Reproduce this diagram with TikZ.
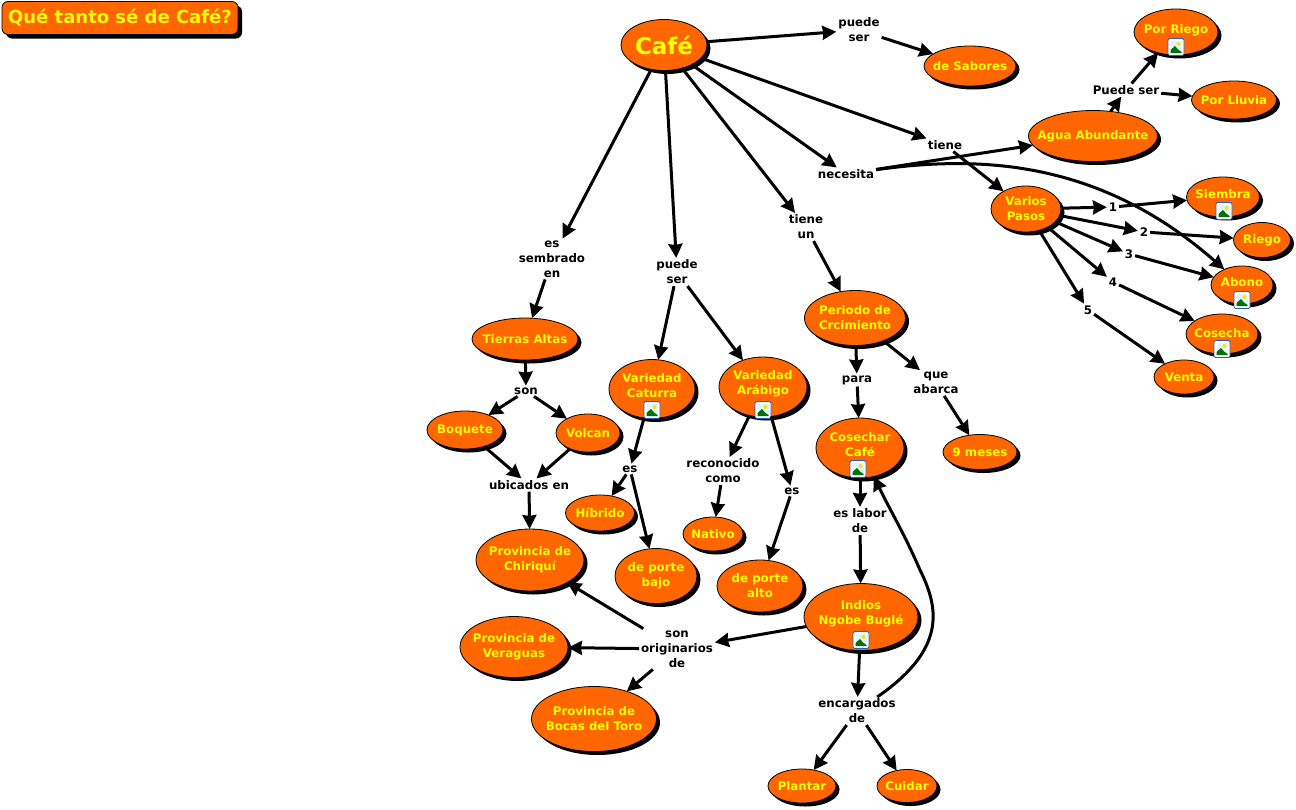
\documentclass[tikz,border=0pt]{standalone}
\usepackage{fontspec}
\setmainfont{DejaVu Sans}
\usetikzlibrary{arrows.meta,shapes.geometric,shadows}
\definecolor{cmaporange}{HTML}{FF6600}
\definecolor{cmapyellow}{HTML}{FFFF00}
\definecolor{iconblue}{HTML}{2A5FC0}

\begin{document}
\begin{tikzpicture}[
    x=1pt, y=-1pt,
    concept/.style 2 args={ellipse, draw=black, line width=0.8pt, fill=cmaporange, text=cmapyellow,
        inner sep=-25pt, outer sep=0pt, minimum width=#1pt, minimum height=#2pt, align=center,
        font=\fontsize{11.8}{15}\selectfont\bfseries,
        general shadow={fill=black, shadow xshift=3.5pt, shadow yshift=-3.5pt}},
    linker/.style={inner sep=1pt, outer sep=1pt, align=center, text=black,
        font=\fontsize{11.8}{15}\selectfont\bfseries},
    link/.style={-{Stealth[length=14pt,width=14pt,inset=1pt]}, line width=3pt},
    pics/imgicon/.style={code={
        \draw[draw=iconblue, fill=white, rounded corners=1.5pt, line width=0.9pt] (-8,-8.5) rectangle (8,8.5);
        \fill[cyan!12!white] (-5.5,-6) rectangle (5.5,6);
        \fill[green!45!black] (-5.5,6) -- (-5.5,3) -- (-1,-1) -- (2,2.5) -- (5.5,5) -- (5.5,6) -- cycle;
        \fill[yellow!85!orange] (2.5,-3) circle (2);
    }}
]
\useasboundingbox (0,0) rectangle (1296,809);

% Title
\node[rectangle, rounded corners=6pt, draw=black, line width=0.8pt, fill=cmaporange, text=cmapyellow,
    minimum width=236pt, minimum height=33pt, font=\fontsize{18}{20}\selectfont\bfseries,
    general shadow={fill=black, shadow xshift=4pt, shadow yshift=-4pt}] (title) at (120,18) {Qué tanto sé de Café?};

% Concepts
\node[concept={86}{51}, font=\fontsize{23}{26}\selectfont\bfseries] (cafe) at (664,45) {Café};
\node[concept={92}{40}] (sabores) at (970,66) {de Sabores};
\node[concept={84}{46}] (riego1) at (1176,32) {Por Riego\\[-9pt]};
\node[concept={85}{38}] (lluvia) at (1234,100) {Por Lluvia};
\node[concept={129}{51}] (agua) at (1093,136) {Agua Abundante};
\node[concept={70}{46}] (pasos) at (1026,209) {Varios\\Pasos};
\node[concept={73}{40}] (siembra) at (1223,197) {Siembra\\[-9pt]};
\node[concept={57}{35}] (riego2) at (1262,240) {Riego};
\node[concept={62}{38}] (abono) at (1242,285) {Abono\\[-10pt]};
\node[concept={72}{40}] (cosecha) at (1222,334) {Cosecha\\[-13pt]};
\node[concept={60}{34}] (venta) at (1184,377) {Venta};
\node[concept={101}{55}] (periodo) at (855,318) {Periodo de\\Crcimiento};
\node[concept={74}{35}] (meses) at (980,452) {9 meses};
\node[concept={88}{60}] (cosechar) at (860,448) {Cosechar\\Café\\[-8pt]};
\node[concept={114}{67}] (indios) at (861,617) {Indios\\Ngobe Buglé\\[-7pt]};
\node[concept={68}{34}] (plantar) at (802,786) {Plantar};
\node[concept={60}{33}] (cuidar) at (907,786) {Cuidar};
\node[concept={108}{62}] (chiriqui) at (530,560) {Provincia de\\Chiriquí};
\node[concept={108}{61}] (veraguas) at (514,647) {Provincia de\\Veraguas};
\node[concept={125}{65}] (bocas) at (594,719) {Provincia de\\Bocas del Toro};
\node[concept={106}{42}] (tierras) at (525,339) {Tierras Altas};
\node[concept={76}{38}] (boquete) at (465,430) {Boquete};
\node[concept={64}{38}] (volcan) at (588,433) {Volcan};
\node[concept={86}{59}] (caturra) at (652,389) {Variedad\\Caturra\\[-8pt]};
\node[concept={88}{60}] (arabigo) at (763,387) {Variedad\\Arábigo\\[-6pt]};
\node[concept={69}{36}] (hibrido) at (600,513) {Híbrido};
\node[concept={82}{55}] (bajo) at (656,576) {de porte\\bajo};
\node[concept={60}{34}] (nativo) at (713,534) {Nativo};
\node[concept={86}{52}] (alto) at (760,586) {de porte\\alto};

% Image badges
\pic at (1176,47) {imgicon};
\pic at (1224,211) {imgicon};
\pic at (1242,300) {imgicon};
\pic at (1222,349) {imgicon};
\pic at (652,410) {imgicon};
\pic at (763,410) {imgicon};
\pic at (858,469) {imgicon};
\pic at (861,640) {imgicon};

% Linking phrases
\node[linker] (puedesabores) at (859,30) {puede\\ser};
\node[linker] (puedeagua) at (1126,90) {Puede ser};
\node[linker] (tiene) at (945,145) {tiene};
\node[linker] (necesita) at (846,174) {necesita};
\node[linker] (uno) at (1113,207) {1};
\node[linker] (dos) at (1144,232) {2};
\node[linker] (tres) at (1129,254) {3};
\node[linker] (cuatro) at (1113,282) {4};
\node[linker] (cinco) at (1088,310) {5};
\node[linker] (tieneun) at (806,227) {tiene\\un};
\node[linker] (para) at (857,380) {para};
\node[linker] (abarca) at (936,383) {que\\abarca};
\node[linker] (labor) at (860,521) {es labor\\de};
\node[linker] (encargados) at (857,711) {encargados\\de};
\node[linker] (originarios) at (677,649) {son\\originarios\\de};
\node[linker] (ubicados) at (529,485) {ubicados en};
\node[linker] (son) at (526,391) {son};
\node[linker] (sembrado) at (552,259) {es\\sembrado\\en};
\node[linker] (puedevar) at (677,272) {puede\\ser};
\node[linker] (escaturra) at (630,469) {es};
\node[linker] (reconocido) at (723,471) {reconocido\\como};
\node[linker] (esarabigo) at (792,491) {es};

% Connectors
\draw[link] (cafe) -- (puedesabores);
\draw[link] (puedesabores) -- (sabores);
\draw[link] (cafe) -- (tiene);
\draw[link] (tiene) -- (pasos);
\draw[link] (cafe) -- (necesita);
\draw[link] (necesita) -- (agua);
\draw[link] (necesita) .. controls (980,155) and (1100,160) .. (abono);
\draw[link] (cafe) -- (tieneun);
\draw[link] (tieneun) -- (periodo);
\draw[link] (cafe) -- (puedevar);
\draw[link] (cafe) -- (sembrado);

\draw[link] (agua) -- (puedeagua);
\draw[link] (puedeagua) -- (riego1);
\draw[link] (puedeagua) -- (lluvia);

\draw[link] (pasos) -- (uno);
\draw[link] (pasos) -- (dos);
\draw[link] (pasos) -- (tres);
\draw[link] (pasos) -- (cuatro);
\draw[link] (pasos) -- (cinco);
\draw[link] (uno) -- (siembra);
\draw[link] (dos) -- (riego2);
\draw[link] (tres) -- (abono);
\draw[link] (cuatro) -- (cosecha);
\draw[link] (cinco) -- (venta);

\draw[link] (periodo) -- (para);
\draw[link] (periodo) -- (abarca);
\draw[link] (abarca) -- (meses);
\draw[link] (para) -- (cosechar);
\draw[link] (cosechar) -- (labor);
\draw[link] (labor) -- (indios);
\draw[link] (indios) -- (encargados);
\draw[link] (indios) -- (originarios);
\draw[link] (encargados) -- (plantar);
\draw[link] (encargados) -- (cuidar);
\draw[link] (encargados) .. controls (945,650) and (940,610) .. (920,570) .. controls (905,535) and (890,510) .. (cosechar);

\draw[link] (originarios) -- (chiriqui);
\draw[link] (originarios) -- (veraguas);
\draw[link] (originarios) -- (bocas);

\draw[link] (sembrado) -- (tierras);
\draw[link] (tierras) -- (son);
\draw[link] (son) -- (boquete);
\draw[link] (son) -- (volcan);
\draw[link] (boquete) -- (ubicados);
\draw[link] (volcan) -- (ubicados);
\draw[link] (ubicados) -- (chiriqui);

\draw[link] (puedevar) -- (caturra);
\draw[link] (puedevar) -- (arabigo);
\draw[link] (caturra) -- (escaturra);
\draw[link] (escaturra) -- (hibrido);
\draw[link] (escaturra) -- (bajo);
\draw[link] (arabigo) -- (reconocido);
\draw[link] (arabigo) -- (esarabigo);
\draw[link] (reconocido) -- (nativo);
\draw[link] (esarabigo) -- (alto);

\end{tikzpicture}
\end{document}
